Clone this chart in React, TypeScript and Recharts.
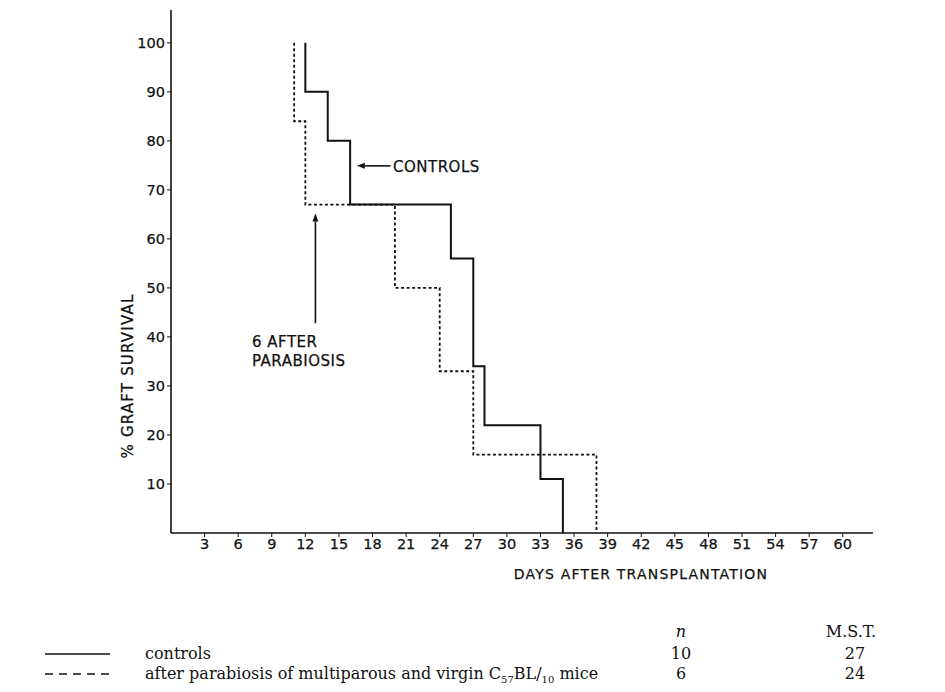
import React from 'react'
import { LineChart, Line, XAxis, YAxis, ReferenceLine } from 'recharts'

// Kaplan-Meier style graft survival
const controlDays = [12, 12, 14, 16, 25, 27, 28, 33, 35]
const controlSurvival = [100, 90, 80, 67, 56, 34, 22, 11, 0]
const parabiosisDays = [11, 11, 12, 20, 24, 27, 38]
const parabiosisSurvival = [100, 84, 67, 50, 33, 16, 0]

const dayTicks = [3, 6, 9, 12, 15, 18, 21, 24, 27, 30, 33, 36, 39, 42, 45, 48, 51, 54, 57, 60]
const survivalTicks = [10, 20, 30, 40, 50, 60, 70, 80, 90, 100]

const groupNames = ['controls', 'after parabiosis of multiparous and virgin']
const groupN = [10, 6]
const groupMST = [27, 24]

const controls = controlDays.map((day, i) => ({ day, survival: controlSurvival[i] }))
const parabiosis = parabiosisDays.map((day, i) => ({ day, survival: parabiosisSurvival[i] }))

const INK = '#111'
const tickFont = { fill: INK, fontSize: 14.5, fontFamily: 'DejaVu Sans', stroke: INK, strokeWidth: 0.25 }

function Arrow(props: any) {
  const { x1, y1, x2, y2 } = props
  const dx = x2 - x1
  const dy = y2 - y1
  const len = Math.sqrt(dx * dx + dy * dy) || 1
  const ux = dx / len
  const uy = dy / len
  const hl = 8
  const hw = 3
  const bx = x2 - ux * hl
  const by = y2 - uy * hl
  return (
    <g>
      <line x1={x1} y1={y1} x2={bx} y2={by} stroke={INK} strokeWidth={1.6} />
      <polygon
        points={`${x2},${y2} ${bx - uy * hw},${by + ux * hw} ${bx + uy * hw},${by - ux * hw}`}
        fill={INK}
      />
    </g>
  )
}

export default function App() {
  return (
    <div style={{ position: 'relative', width: 945, height: 692, background: '#fff' }}>
      <style>{`body{margin:0}`}</style>
      <LineChart
        width={945}
        height={692}
        margin={{ top: 10, right: 72, left: 111, bottom: 129 }}
      >
        <XAxis
          type="number"
          dataKey="day"
          domain={[0, 62.7]}
          ticks={dayTicks}
          allowDuplicatedCategory={false}
          height={30}
          axisLine={{ stroke: INK, strokeWidth: 1.6 }}
          tickLine={{ stroke: INK }}
          tickSize={4}
          tick={tickFont}
        />
        <YAxis
          type="number"
          dataKey="survival"
          domain={[0, 106.7]}
          ticks={survivalTicks}
          width={60}
          axisLine={{ stroke: INK, strokeWidth: 1.6 }}
          tickLine={{ stroke: INK }}
          tickSize={4}
          tick={tickFont}
        />
        <ReferenceLine
          segment={[{ x: 19.6, y: 74.9 }, { x: 16.6, y: 74.9 }]}
          shape={<Arrow />}
        />
        <ReferenceLine
          segment={[{ x: 12.9, y: 42.8 }, { x: 12.9, y: 65.2 }]}
          shape={<Arrow />}
        />
        <Line
          data={controls}
          dataKey="survival"
          type="stepAfter"
          stroke={INK}
          strokeWidth={2}
          dot={false}
          isAnimationActive={false}
        />
        <Line
          data={parabiosis}
          dataKey="survival"
          type="stepAfter"
          stroke={INK}
          strokeWidth={1.8}
          strokeDasharray="3 2.5"
          dot={false}
          isAnimationActive={false}
        />
      </LineChart>
      <svg
        width={945}
        height={692}
        style={{ position: 'absolute', left: 0, top: 0, pointerEvents: 'none' }}
      >
        <g fontFamily="DejaVu Sans" fill={INK} fontSize={15} stroke={INK} strokeWidth={0.25}>
          <text x={393} y={172} letterSpacing={0.5}>CONTROLS</text>
          <text x={252} y={347} letterSpacing={0.5}>6 AFTER</text>
          <text x={252} y={366} letterSpacing={0.5}>PARABIOSIS</text>
          <text x={641} y={579} fontSize={14} textAnchor="middle" letterSpacing={1.2}>
            DAYS AFTER TRANSPLANTATION
          </text>
          <text
            x={0}
            y={0}
            fontSize={15}
            textAnchor="middle"
            letterSpacing={1.2}
            transform="translate(133 376) rotate(-90)"
          >
            % GRAFT SURVIVAL
          </text>
        </g>
        <g fontFamily="DejaVu Serif" fill={INK} fontSize={16}>
          <text x={681} y={637} textAnchor="middle" fontStyle="italic">n</text>
          <text x={851} y={637} textAnchor="middle">M.S.T.</text>
          <line x1={45} y1={654} x2={110} y2={654} stroke={INK} strokeWidth={1.3} />
          <line x1={45} y1={674} x2={110} y2={674} stroke={INK} strokeWidth={1.3} strokeDasharray="8 6" />
          <text x={145} y={659}>{groupNames[0]}</text>
          <text x={145} y={679}>
            {groupNames[1]} C
            <tspan fontSize={10} dy={4}>57</tspan>
            <tspan dy={-4}>BL/</tspan>
            <tspan fontSize={10} dy={4}>10</tspan>
            <tspan dy={-4}> mice</tspan>
          </text>
          <text x={681} y={659} textAnchor="middle">{groupN[0]}</text>
          <text x={681} y={679} textAnchor="middle">{groupN[1]}</text>
          <text x={855} y={659} textAnchor="middle">{groupMST[0]}</text>
          <text x={855} y={679} textAnchor="middle">{groupMST[1]}</text>
        </g>
      </svg>
    </div>
  )
}
